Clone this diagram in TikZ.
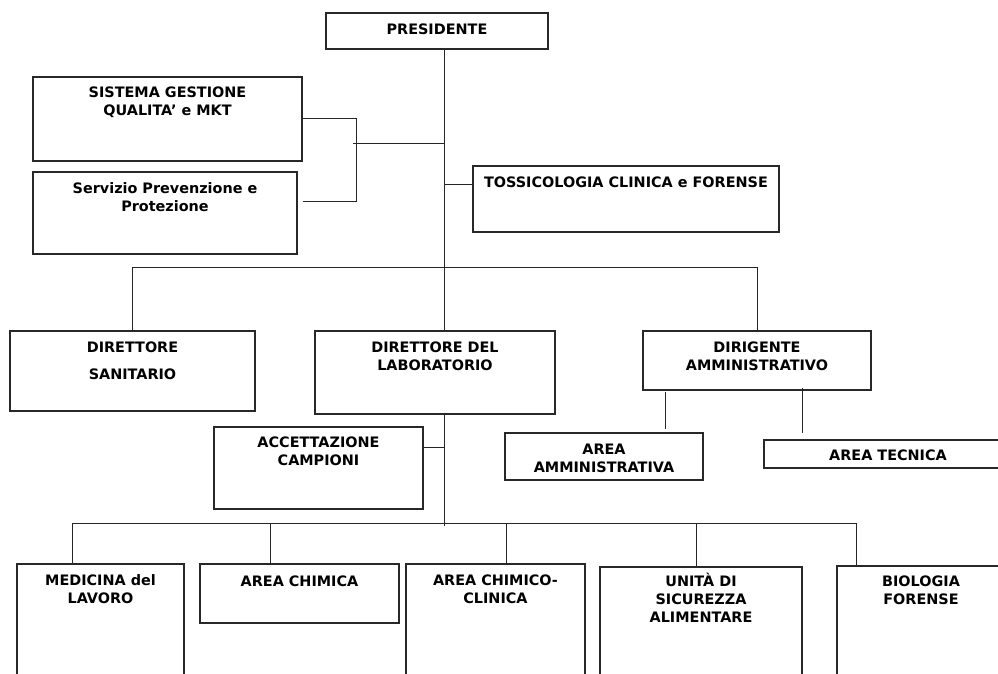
\documentclass[tikz,border=0pt]{standalone}
\usepackage{fontspec}
\setmainfont{DejaVu Sans}
\usetikzlibrary{fit}
\definecolor{boxc}{RGB}{40,40,40}
\tikzset{
  box/.style={draw=boxc, line width=1.2pt, inner sep=0pt},
  lbl/.style={font=\bfseries\fontsize{14.4}{18}\selectfont, align=center, anchor=base, inner sep=0pt},
  conn/.style={draw=black!85, line width=1pt},
}
\begin{document}
\begin{tikzpicture}[x=1pt,y=-1pt]
\useasboundingbox (0,0) rectangle (998,673);
\clip (0,0) rectangle (998,673);
\fill[white] (0,0) rectangle (998,673);
% boxes
\node[box, fit={(326,13) (548,49)}] (pres) {};
\node[box, fit={(33,77) (302,161)}] (sgq) {};
\node[box, fit={(33,172) (297,254)}] (spp) {};
\node[box, fit={(473,166) (779,232)}] (tox) {};
\node[box, fit={(10,331) (255,411)}] (dsan) {};
\node[box, fit={(315,331) (555,414)}] (dlab) {};
\node[box, fit={(643,331) (871,390)}] (dirig) {};
\node[box, fit={(505,433) (703,480)}] (aamm) {};
\node[box, fit={(764,440) (1012,468)}] (atec) {};
\node[box, fit={(214,427) (423,509)}] (acc) {};
\node[box, fit={(17,564) (184,690)}] (med) {};
\node[box, fit={(200,564) (399,623)}] (chim) {};
\node[box, fit={(406,564) (585,690)}] (ccl) {};
\node[box, fit={(600,567) (802,690)}] (usa) {};
\node[box, fit={(837,566) (1005,690)}] (bio) {};
% texts (anchor = baseline of the last line)
\node[lbl] (presT) at (pres.north |- 0,34) {PRESIDENTE};
\node[lbl] (sgqT) at (sgq.north |- 0,115) {SISTEMA GESTIONE\\QUALITA’ e MKT};
\node[lbl] (sppT) at (spp.north |- 0,211) {Servizio Prevenzione e\\Protezione};
\node[lbl] (toxT) at (tox.north |- 0,187) {TOSSICOLOGIA CLINICA e FORENSE};
\node[lbl] (dsanT) at (dsan.north |- 0,379) {DIRETTORE\\[9pt]SANITARIO};
\node[lbl] (dlabT) at (dlab.north |- 0,370) {DIRETTORE DEL\\LABORATORIO};
\node[lbl] (dirigT) at (dirig.north |- 0,370) {DIRIGENTE\\AMMINISTRATIVO};
\node[lbl] (aammT) at (aamm.north |- 0,472) {AREA\\AMMINISTRATIVA};
\node[lbl] (atecT) at (atec.north |- 0,460) {AREA TECNICA};
\node[lbl] (accT) at (acc.north |- 0,465) {ACCETTAZIONE\\CAMPIONI};
\node[lbl] (medT) at (med.north |- 0,603) {MEDICINA del\\LAVORO};
\node[lbl] (chimT) at (chim.north |- 0,586) {AREA CHIMICA};
\node[lbl] (cclT) at (ccl.north |- 0,603) {AREA CHIMICO-\\CLINICA};
\node[lbl] (usaT) at (usa.north |- 0,622) {UNITÀ DI\\SICUREZZA\\ALIMENTARE};
\node[lbl] (bioT) at (bio.north |- 0,604) {BIOLOGIA\\FORENSE};
% connectors
\coordinate (sp) at (444,0);
\draw[conn] (pres.south -| sp) -- (dlab.north -| sp);
\draw[conn] (sp |- 0,143) -- (353,143);
\draw[conn] (sgq.east |- 0,118) -- (356,118) -- (356,201) -- (sgq.east |- 0,201);
\draw[conn] (sp |- 0,184) -- (tox.west |- 0,184);
\draw[conn] (dsan.north) -- (dsan.north |- 0,267) -- (dirig.north |- 0,267) -- (dirig.north);
\draw[conn] (665,392) -- (665,429);
\draw[conn] (802,388) -- (802,433);
\draw[conn] (acc.east |- 0,447) -- (sp |- 0,447);
\draw[conn] (dlab.south -| sp) -- (sp |- 0,526);
\draw[conn] (med.north -| 72,0) -- (72,523) -- (856,523) -- (bio.north -| 856,0);
\draw[conn] (chim.north -| 270,0) -- (270,523);
\draw[conn] (ccl.north -| 506,0) -- (506,523);
\draw[conn] (usa.north -| 696,0) -- (696,523);
\end{tikzpicture}
\end{document}
